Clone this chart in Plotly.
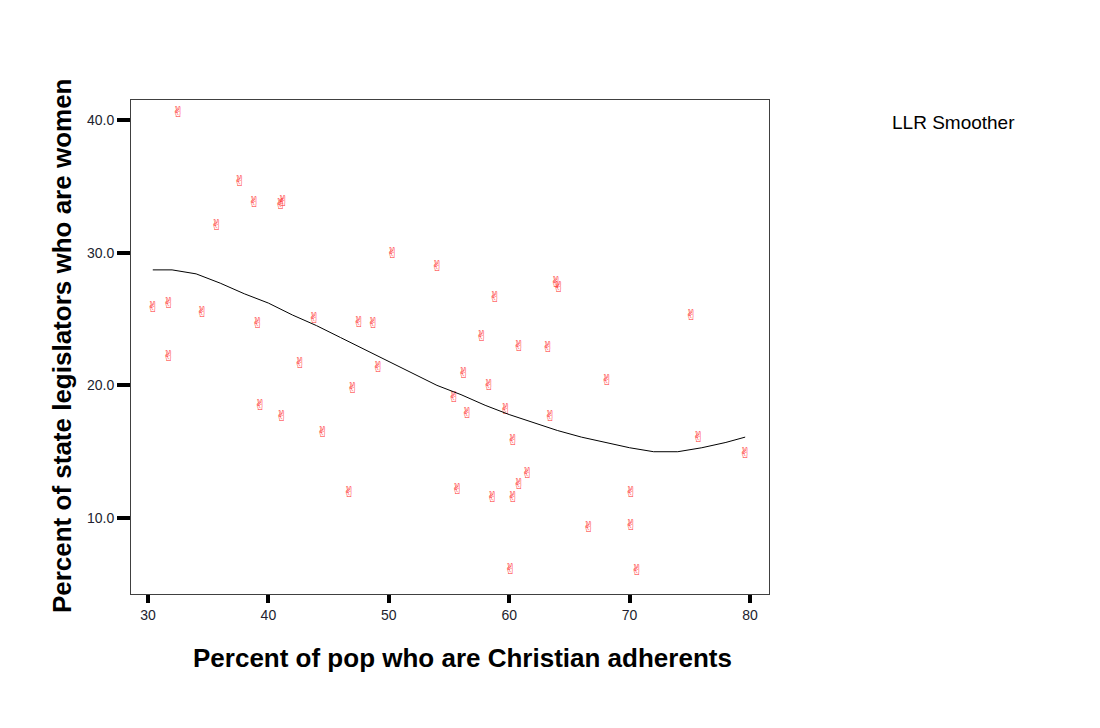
import plotly.graph_objects as go

# Observed states
christian_pct = [
    32.5, 30.4, 31.7, 31.7, 34.5, 35.7, 37.6, 38.8, 41.0, 41.2,
    39.1, 39.3, 41.1, 42.6, 43.8, 44.5, 46.7, 47.0, 47.5, 48.7,
    49.1, 50.3, 54.0, 55.4, 55.7, 56.2, 56.5, 57.7, 58.3, 58.8,
    58.6, 59.7, 60.1, 60.3, 60.3, 60.8, 60.8, 61.5, 63.2, 63.4,
    63.9, 64.1, 66.6, 68.1, 70.1, 70.1, 70.6, 75.1, 75.7, 79.6,
]
women_pct = [
    40.5, 25.8, 26.1, 22.1, 25.4, 32.0, 35.3, 33.7, 33.6, 33.8,
    24.6, 18.4, 17.6, 21.6, 25.0, 16.4, 11.9, 19.7, 24.7, 24.6,
    21.3, 29.9, 28.9, 19.0, 12.1, 20.8, 17.8, 23.6, 19.9, 26.6,
    11.5, 18.1, 6.1, 15.8, 11.5, 22.9, 12.5, 13.3, 22.8, 17.6,
    27.7, 27.3, 9.2, 20.3, 11.9, 9.4, 6.0, 25.2, 16.0, 14.8,
]

# LLR smoother curve
smooth_x = [30.4, 32, 34, 36, 38, 40, 42, 44, 46, 48, 50, 52, 54, 56, 58,
            60, 62, 64, 66, 68, 70, 72, 74, 76, 78, 79.6]
smooth_y = [28.7, 28.7, 28.4, 27.7, 26.9, 26.2, 25.3, 24.5, 23.6, 22.7, 21.8,
            20.9, 20.0, 19.3, 18.5, 17.8, 17.2, 16.6, 16.1, 15.7, 15.3, 15.0,
            15.0, 15.3, 15.7, 16.1]

x_ticks = [30, 40, 50, 60, 70, 80]
y_ticks = [10, 20, 30, 40]

fig = go.Figure()
fig.add_trace(go.Scatter(
    x=christian_pct, y=women_pct, mode="text", text=["✌"] * len(women_pct),
    textfont=dict(color="#ff2a2a", size=15, family="DejaVu Sans"),
    textposition="middle center", showlegend=False,
))
fig.add_trace(go.Scatter(
    x=smooth_x, y=smooth_y, mode="lines", line=dict(color="black", width=1),
    showlegend=False,
))

axis_common = dict(
    showgrid=False, zeroline=False, showline=True, mirror=True,
    linecolor="#404040", linewidth=1, ticks="outside", tickwidth=4,
    tickcolor="black", tickfont=dict(family="Liberation Sans", size=14, color="#221e2e"),
)
fig.update_xaxes(range=[28.59, 81.58], tickvals=x_ticks, ticklen=8, **axis_common)
fig.update_yaxes(range=[4.28, 41.5], tickvals=y_ticks, tickformat=".1f", ticklen=13,
                 **axis_common)

fig.add_annotation(
    text="<b>Percent of pop who are Christian adherents</b>", xref="paper", yref="paper",
    x=0.519, y=-0.130, xanchor="center", yanchor="middle", showarrow=False,
    font=dict(family="Liberation Sans", size=26, color="black"),
)
fig.add_annotation(
    text="<b>Percent of state legislators who are women</b>", xref="paper", yref="paper",
    x=-0.108, y=0.502, xanchor="center", yanchor="middle", textangle=-90, showarrow=False,
    font=dict(family="Liberation Sans", size=26, color="black"),
)
fig.add_annotation(
    text="LLR Smoother", xref="paper", yref="paper", x=1.190, y=0.955,
    xanchor="left", yanchor="middle", showarrow=False,
    font=dict(family="Liberation Sans", size=19, color="black"),
)

fig.update_layout(
    width=1084, height=714, plot_bgcolor="white", paper_bgcolor="white",
    margin=dict(l=123, r=323, t=92, b=128),
)

fig.write_html("out.html")
